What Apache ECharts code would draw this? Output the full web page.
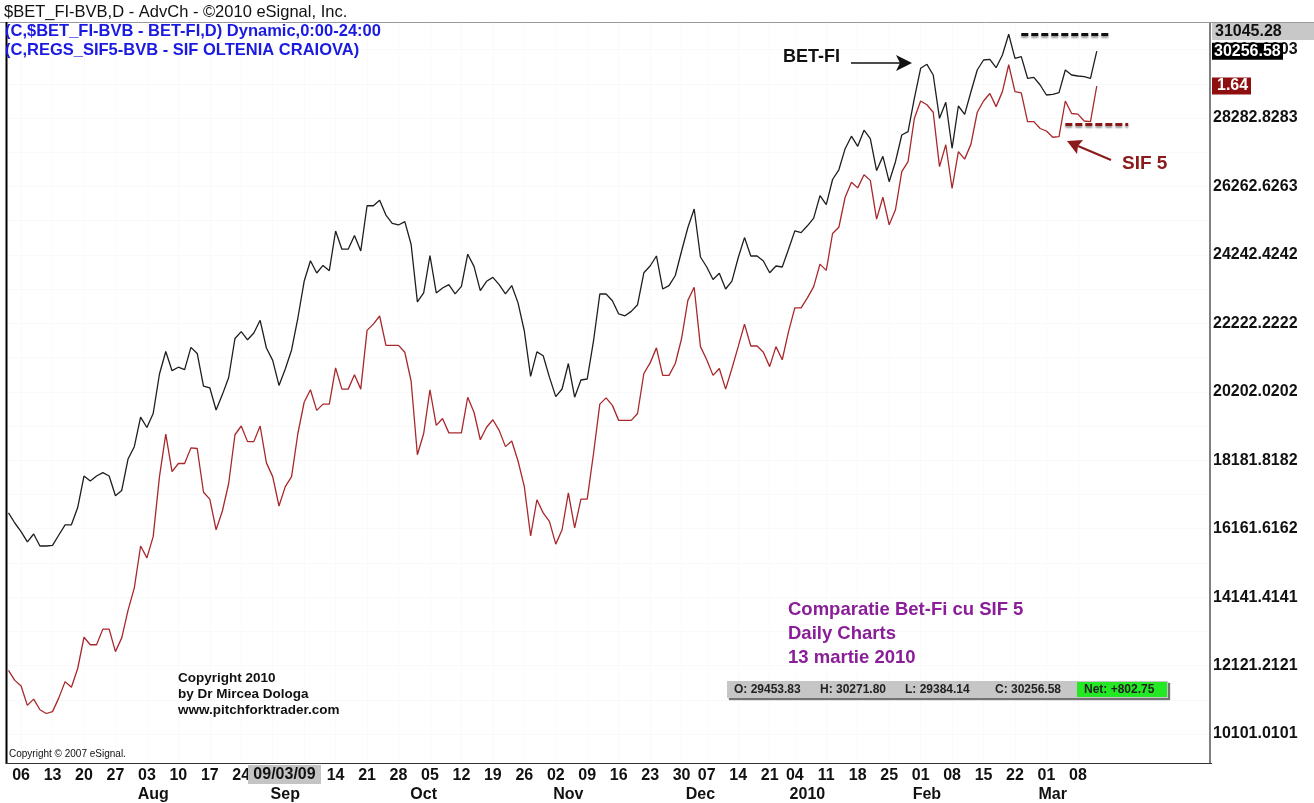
<!DOCTYPE html>
<html><head><meta charset="utf-8">
<script src="https://cdn.jsdelivr.net/npm/echarts@6/dist/echarts.min.js"></script>
<style>html,body{margin:0;padding:0;background:#fff}#c{width:1314px;height:803px}</style>
</head><body><div id="c"></div><script>
// ---- trading sessions (categories) ----
const sessions = {
  '2009-07': [2,3,6,7,8,9,10,13,14,15,16,17,20,21,22,23,24,27,28,29,30,31],
  '2009-08': [3,4,5,6,7,10,11,12,13,14,17,18,19,20,21,24,25,26,27,28,31],
  '2009-09': [1,2,3,4,7,8,9,10,11,14,15,16,17,18,21,22,23,24,25,28,29,30],
  '2009-10': [1,2,5,6,7,8,9,12,13,14,15,16,19,20,21,22,23,26,27,28,29,30],
  '2009-11': [2,3,4,5,6,9,10,11,12,13,16,17,18,19,20,23,24,25,26,27,30],
  '2009-12': [2,3,4,7,8,9,10,11,14,15,16,17,18,21,22,23,28],
  '2010-01': [4,5,6,7,8,11,12,13,14,15,18,19,20,21,22,25,26,27,28,29],
  '2010-02': [1,2,3,4,5,8,9,10,11,12,15,16,17,18,19,22,23,24,25,26],
  '2010-03': [1,2,3,4,5,8,9,10,11]
};
const futureSessions = ['2010-03-12','2010-03-15','2010-03-16','2010-03-17','2010-03-18','2010-03-19',
  '2010-03-22','2010-03-23','2010-03-24','2010-03-25','2010-03-26','2010-03-29','2010-03-30','2010-03-31',
  '2010-04-01','2010-04-02','2010-04-05','2010-04-06'];

// ---- series values ----
const betfi = [16630,16329,16075,15771,16005,15650,15650,15671,15975,16276,
  16276,16784,17714,17569,17717,17814,17717,17135,17289,18218,
  18582,19452,19148,19562,20727,21392,20825,20928,20857,21513,
  21333,20373,20320,19665,20119,20624,21775,21979,21737,21938,
  22313,21495,21129,20391,20875,21436,22380,23464,24069,23709,
  23933,23777,24949,24411,24411,24813,24361,25693,25693,25858,
  25418,25173,25126,25223,24556,22856,23121,24225,23121,23266,
  23366,23092,23316,24264,23904,23189,23464,23579,23366,23092,
  23337,22826,21997,20657,21380,21265,20627,20060,20285,21037,
  20043,20550,20580,21702,23089,23089,22891,22499,22445,22575,
  22773,23715,23915,24211,23237,23337,23635,24358,25052,25598,
  24181,23886,23517,23703,23237,23467,24160,24754,24211,24211,
  24063,23715,23915,23886,24408,24951,24901,25102,25329,25994,
  25725,26469,26755,27378,27747,27449,27924,27676,26734,27151,
  26404,26994,27782,27880,28866,29751,29869,29553,28275,28748,
  27390,28638,28393,29060,29701,29996,30017,29769,30144,30755,
  30046,30094,29456,29485,29258,28963,28984,29031,29701,29553,
  29524,29503,29453.83,30256.58];
const sif5 = [0.705,0.689,0.680,0.649,0.659,0.642,0.636,0.639,0.661,0.687,
  0.678,0.708,0.758,0.746,0.746,0.771,0.771,0.735,0.757,0.801,
  0.837,0.904,0.885,0.919,1.015,1.083,1.023,1.036,1.036,1.061,
  1.060,0.990,0.979,0.930,0.960,1.004,1.082,1.096,1.071,1.071,
  1.096,1.037,1.015,0.968,0.999,1.015,1.084,1.134,1.154,1.121,
  1.131,1.131,1.189,1.155,1.155,1.178,1.155,1.249,1.259,1.272,
  1.225,1.225,1.225,1.214,1.168,1.050,1.084,1.154,1.097,1.108,
  1.085,1.085,1.085,1.142,1.118,1.074,1.094,1.106,1.089,1.063,
  1.072,1.040,0.999,0.920,0.978,0.957,0.943,0.907,0.930,0.989,
  0.933,0.979,0.979,1.052,1.131,1.141,1.129,1.105,1.105,1.105,
  1.116,1.180,1.197,1.221,1.177,1.177,1.196,1.236,1.297,1.318,
  1.223,1.202,1.177,1.188,1.155,1.188,1.223,1.259,1.224,1.224,
  1.214,1.191,1.223,1.202,1.247,1.285,1.285,1.301,1.319,1.355,
  1.345,1.404,1.414,1.462,1.486,1.477,1.498,1.489,1.427,1.462,
  1.418,1.442,1.503,1.519,1.588,1.616,1.610,1.598,1.511,1.546,
  1.476,1.535,1.523,1.547,1.598,1.616,1.628,1.607,1.631,1.674,
  1.631,1.629,1.583,1.583,1.572,1.568,1.558,1.559,1.616,1.596,
  1.595,1.584,1.583,1.64];

// ---- tick labels ----
const weekTicks = ['2009-07-06','2009-07-13','2009-07-20','2009-07-27','2009-08-03','2009-08-10','2009-08-17',
  '2009-08-24','2009-08-31','2009-09-07','2009-09-14','2009-09-21','2009-09-28','2009-10-05','2009-10-12',
  '2009-10-19','2009-10-26','2009-11-02','2009-11-09','2009-11-16','2009-11-23','2009-11-30','2009-12-07',
  '2009-12-14','2009-12-21','2010-01-04','2010-01-11','2010-01-18','2010-01-25','2010-02-01','2010-02-08',
  '2010-02-15','2010-02-22','2010-03-01','2010-03-08'];
const monthTicks = {'2009-08-04':'Aug','2009-09-02':'Sep','2009-10-02':'Oct','2009-11-04':'Nov',
  '2009-12-04':'Dec','2010-01-06':'2010','2010-02-02':'Feb','2010-03-02':'Mar'};
const yTickLabels = ['10101.0101','12121.2121','14141.4141','16161.6162','18181.8182','20202.0202',
  '22222.2222','24242.4242','26262.6263','28282.8283','30303.0303'];
const betfiRange = [9245, 31088];
const sif5Range = [0.5568, 1.7408];
const betfiPeak = 30755;      // dashed resistance
const sif5Support = 1.578;    // dashed support
const ohlc = ['O: 29453.83','H: 30271.80','L: 29384.14','C: 30256.58'];
const netText = 'Net: +802.75';

// ---- derived ----
const dates = [];
Object.keys(sessions).forEach(m => sessions[m].forEach(d => dates.push(m + '-' + String(d).padStart(2, '0'))));
const categories = dates.concat(futureSessions);
const yTicks = yTickLabels.map(Number);
const gridVals = [];
yTicks.forEach((t, i) => { gridVals.push(t); if (i < yTicks.length - 1) gridVals.push((t + yTicks[i + 1]) / 2); });
const weekSet = new Set(weekTicks);
const FONT = '"Liberation Sans", Arial, sans-serif';

const chart = echarts.init(document.getElementById('c'), null, {renderer: 'canvas'});
chart.setOption({
  animation: false,
  backgroundColor: '#ffffff',
  grid: {left: 8.5, right: 104, top: 23, bottom: 40, containLabel: false},
  xAxis: [{
    type: 'category', data: categories, boundaryGap: false,
    axisLine: {show: true, lineStyle: {color: '#333', width: 1}},
    axisTick: {show: false},
    axisLabel: {interval: (i, v) => weekSet.has(v), formatter: v => v.slice(8),
      color: '#111', fontSize: 16, fontWeight: 'bold', fontFamily: FONT, margin: 5},
    splitLine: {show: true, interval: (i, v) => weekSet.has(v), lineStyle: {color: '#f5f5f5', type: 'dotted'}}
  }, {
    type: 'category', data: categories, boundaryGap: false, position: 'bottom', offset: 19,
    axisLine: {show: false}, axisTick: {show: false}, splitLine: {show: false},
    axisLabel: {interval: (i, v) => monthTicks[v] !== undefined, formatter: v => monthTicks[v] || '',
      color: '#111', fontSize: 16, fontWeight: 'bold', fontFamily: FONT, margin: 5}
  }],
  yAxis: [{
    type: 'value', position: 'right', min: betfiRange[0], max: betfiRange[1], scale: true,
    axisLine: {show: true, lineStyle: {color: '#808080', width: 2}},
    axisTick: {show: false, customValues: gridVals},
    axisLabel: {customValues: yTicks, margin: 3, color: '#111', fontSize: 16, fontWeight: 'bold', fontFamily: FONT,
      formatter: v => { const i = yTicks.findIndex(t => Math.abs(t - v) < 0.01); return i >= 0 ? yTickLabels[i] : ''; }},
    splitLine: {show: true, lineStyle: {color: '#f3f3f3', type: 'dotted'}}
  }, {
    type: 'value', show: false, min: sif5Range[0], max: sif5Range[1], splitLine: {show: false}
  }],
  series: [{
    name: 'BET-FI', type: 'line', data: betfi, xAxisIndex: 0, yAxisIndex: 0, symbol: 'none',
    lineStyle: {color: '#1e1e1e', width: 1.3}, z: 3,
    markLine: {silent: true, symbol: ['none', 'none'], label: {show: false},
      lineStyle: {color: '#111', width: 3, type: [7, 3], shadowColor: 'rgba(0,0,0,0.4)', shadowBlur: 2, shadowOffsetY: 2},
      data: [[{coord: [161, betfiPeak]}, {coord: [175, betfiPeak]}]]}
  }, {
    name: 'SIF 5', type: 'line', data: sif5, xAxisIndex: 0, yAxisIndex: 1, symbol: 'none',
    lineStyle: {color: '#a8282c', width: 1.3}, z: 2,
    markLine: {silent: true, symbol: ['none', 'none'], label: {show: false},
      lineStyle: {color: '#8b1616', width: 3, type: [7, 3], shadowColor: 'rgba(0,0,0,0.4)', shadowBlur: 2, shadowOffsetY: 2},
      data: [[{coord: [168, sif5Support]}, {coord: [178, sif5Support]}]]}
  }]
});

const yb = chart.convertToPixel({yAxisIndex: 0}, betfi[betfi.length - 1]);
const ys = chart.convertToPixel({yAxisIndex: 1}, sif5[sif5.length - 1]);

function txt(text, x, y, opt) {
  opt = opt || {};
  return {type: 'text', x: x, y: y, z: opt.z || 50, silent: true,
    style: {text: text, fill: opt.color || '#111', font: opt.font || ('bold 16px ' + FONT),
      align: opt.align || 'left', verticalAlign: 'middle', textAlign: opt.align || 'left', textVerticalAlign: 'middle'}};
}
function rect(x, y, w, h, fill, z, shadow) {
  const r = {type: 'rect', z: z || 40, silent: true, shape: {x: x, y: y, width: w, height: h}, style: {fill: fill}};
  if (shadow) { r.style.shadowColor = 'rgba(0,0,0,0.55)'; r.style.shadowOffsetX = 2; r.style.shadowOffsetY = 2; r.style.shadowBlur = 1; }
  return r;
}
function line(x1, y1, x2, y2, color, w, z) {
  return {type: 'line', z: z || 45, silent: true, shape: {x1: x1, y1: y1, x2: x2, y2: y2}, style: {stroke: color, lineWidth: w}};
}
const g = [];
// frame
g.push(line(0, 22.5, 1314, 22.5, '#9a9a9a', 1, 30));
g.push(line(6.5, 22, 6.5, 764, '#000', 2, 30));
g.push(line(6, 763.5, 1212, 763.5, '#333', 1, 30));
// header
g.push(txt('$BET_FI-BVB,D - AdvCh - \u00A92010 eSignal, Inc.', 4, 12, {font: '16.5px ' + FONT, color: '#111'}));
g.push(txt('(C,$BET_FI-BVB - BET-FI,D) Dynamic,0:00-24:00', 5, 31, {font: 'bold 16.5px ' + FONT, color: '#1a1ae0'}));
g.push(txt('(C,REGS_SIF5-BVB - SIF OLTENIA CRAIOVA)', 5, 50, {font: 'bold 16.5px ' + FONT, color: '#1a1ae0'}));
// right axis boxes
g.push(rect(1212, 23, 102, 17, '#c8c8c8', 60));
g.push(txt('31045.28', 1215, 31.5, {z: 61}));
g.push(rect(1212, yb - 8.5, 71, 17, '#000', 60));
g.push(txt(String(betfi[betfi.length - 1]), 1214, yb, {z: 61, color: '#fff'}));
g.push(rect(1212, ys - 8.5, 39, 17, '#8e0f0f', 60));
g.push(txt(String(sif5[sif5.length - 1]), 1217, ys, {z: 61, color: '#fff'}));
// cursor date box
g.push(rect(248, 765, 73, 19, '#c4c4c4', 60));
g.push(txt('09/03/09', 284.5, 775, {z: 61, align: 'center'}));
// annotations
g.push(txt('BET-FI', 783, 57, {font: 'bold 18px ' + FONT, color: '#111'}));
g.push(line(851, 63, 900, 63, '#111', 1.5));
g.push({type: 'polygon', z: 46, silent: true, shape: {points: [[912, 63], [896, 55], [900, 63], [896, 71]]}, style: {fill: '#111'}});
g.push(txt('SIF 5', 1122, 164, {font: 'bold 19px ' + FONT, color: '#8b1a1a'}));
g.push(line(1111, 160, 1078, 146, '#8b1a1a', 2));
g.push({type: 'polygon', z: 46, silent: true, shape: {points: [[1067, 141], [1083, 140], [1078, 146], [1077, 154]]}, style: {fill: '#8b1a1a'}});
g.push(txt('Comparatie Bet-Fi cu SIF 5', 788, 610, {font: 'bold 18.5px ' + FONT, color: '#8a1d98'}));
g.push(txt('Daily Charts', 788, 634, {font: 'bold 18.5px ' + FONT, color: '#8a1d98'}));
g.push(txt('13 martie 2010', 788, 658, {font: 'bold 18.5px ' + FONT, color: '#8a1d98'}));
g.push(txt('Copyright 2010', 178, 678, {font: 'bold 13.5px ' + FONT}));
g.push(txt('by Dr Mircea Dologa', 178, 694, {font: 'bold 13.5px ' + FONT}));
g.push(txt('www.pitchforktrader.com', 178, 710, {font: 'bold 13.5px ' + FONT}));
g.push(txt('Copyright \u00A9 2007 eSignal.', 9, 754, {font: '10px ' + FONT}));
// OHLC bar
g.push(rect(727, 681, 441, 17, '#c6c6c6', 55, true));
g.push(rect(1077, 682, 90, 15, '#25e825', 56));
const ox = [734, 820, 905, 995];
ohlc.forEach((t, i) => g.push(txt(t, ox[i], 690, {z: 57, font: 'bold 12px ' + FONT, color: '#222'})));
g.push(txt(netText, 1084, 690, {z: 57, font: 'bold 12px ' + FONT, color: '#222'}));
chart.setOption({graphic: {elements: g}});
</script></body></html>
